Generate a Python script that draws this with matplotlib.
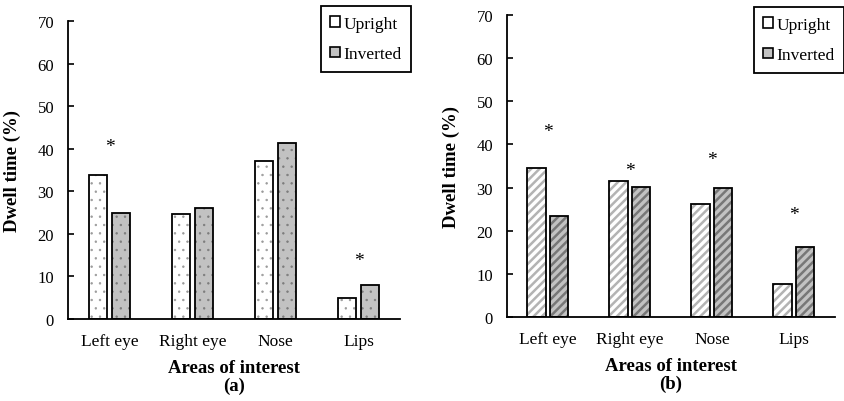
import matplotlib
matplotlib.use("Agg")
import matplotlib.pyplot as plt
from matplotlib.patches import Patch
import numpy as np

categories = ["Left eye", "Right eye", "Nose", "Lips"]
upright_a = [33.8, 24.6, 37.1, 4.9]
inverted_a = [24.9, 26.1, 41.3, 8.0]
upright_b = [34.6, 31.5, 26.1, 7.7]
inverted_b = [23.5, 30.2, 30.0, 16.2]
# significance markers: (category index, height)
stars_a = [(0, 40.6), (3, 13.8)]
stars_b = [(0, 43.0), (1, 34.0), (2, 36.5), (3, 23.8)]
series_labels = ["Upright", "Inverted"]

plt.rcParams['font.family'] = ['Liberation Serif', 'DejaVu Serif']

W, H = 845, 402
fig = plt.figure(figsize=(W / 100, H / 100), dpi=100)


def fig_rect(x0, x1, ytop, ybot):
    return [x0 / W, 1 - ybot / H, (x1 - x0) / W, (ybot - ytop) / H]


def draw_panel(rect, up, inv, stars, hatch, hlw, hcol_up, hcol_inv, tag, legend_box):
    ax = fig.add_axes(rect)
    x = np.arange(len(categories))
    bw = 0.22
    off = 0.14
    fills = ["white", "#c2c2c2"]
    hcols = [hcol_up, hcol_inv]
    with plt.rc_context({'hatch.linewidth': hlw}):
        for vals, dx, fc, hc in [(up, -off, fills[0], hcols[0]), (inv, off, fills[1], hcols[1])]:
            ax.bar(x + dx, vals, bw, color=fc, edgecolor=hc, hatch=hatch, linewidth=0, zorder=2)
            ax.bar(x + dx, vals, bw, color="none", edgecolor="black", linewidth=1.3, zorder=3)
    for i, h in stars:
        ax.text(x[i], h, "*", ha="center", va="center", fontsize=14, zorder=4)
    ax.set_xlim(-0.5, len(categories) - 0.5)
    ax.set_ylim(0, 70)
    ax.set_yticks(np.arange(0, 71, 10))
    ax.set_xticks(x)
    ax.set_xticklabels(categories, fontsize=12.5)
    ax.tick_params(axis='x', length=0, pad=10)
    ax.tick_params(axis='y', direction='in', length=4, width=1.2, labelsize=12, pad=10)
    for s in ["top", "right"]:
        ax.spines[s].set_visible(False)
    for s in ["left", "bottom"]:
        ax.spines[s].set_linewidth(1.3)
    ax.set_ylabel("Dwell time (%)", fontsize=13.5, fontweight="bold", labelpad=12)
    ax.set_xlabel("Areas of interest\n(" + tag + ")", fontsize=13.5, fontweight="bold",
                  labelpad=7, linespacing=1.05)
    handles = [Patch(facecolor=fills[0], edgecolor="black", linewidth=1.2),
               Patch(facecolor=fills[1], edgecolor="black", linewidth=1.2)]
    leg = ax.legend(handles, series_labels, loc="upper right",
                    bbox_to_anchor=(legend_box[0] / W, 1 - legend_box[1] / H),
                    bbox_transform=fig.transFigure, borderaxespad=0,
                    fancybox=False, framealpha=1, edgecolor="black",
                    fontsize=12.5, handlelength=0.55, handleheight=0.55,
                    handletextpad=0.2, labelspacing=0.85, borderpad=0.55)
    leg.get_frame().set_linewidth(1.3)
    return ax


draw_panel(fig_rect(68, 400, 22, 320), upright_a, inverted_a, stars_a,
           "..", 0.5, "#9a9a9a", "#7c7c7c", "a", (411, 7))
draw_panel(fig_rect(507, 835, 16, 318), upright_b, inverted_b, stars_b,
           "////", 1.8, "#b4b4b4", "#777777", "b", (844, 8))

fig.savefig("out.png", dpi=100)
